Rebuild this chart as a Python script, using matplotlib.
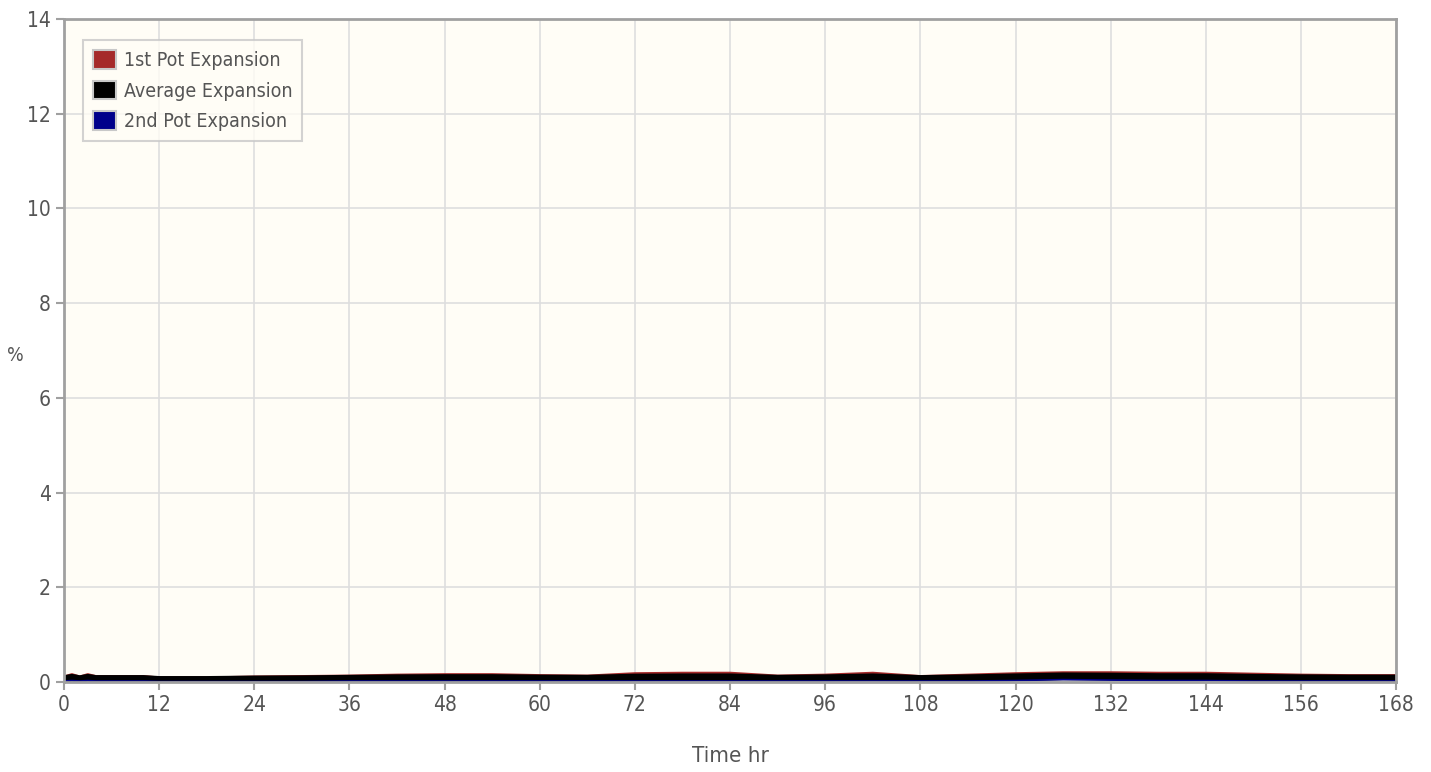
import matplotlib
matplotlib.use("Agg")
import matplotlib.pyplot as plt
from matplotlib.patches import Patch

plt.rcParams['font.family'] = ['DejaVu Sans']
plt.rcParams['font.stretch'] = 'condensed'

# time in hours and expansion in %
hours = [0, 1, 2, 3, 4, 6, 10, 12, 18, 24, 30, 36, 42, 48, 54, 60, 66, 72, 78, 84,
         90, 96, 102, 108, 114, 120, 126, 132, 138, 144, 150, 156, 162, 168]
pot1 = [0.10, 0.15, 0.10, 0.15, 0.11, 0.11, 0.11, 0.08, 0.08, 0.10, 0.11, 0.12, 0.14, 0.15, 0.15, 0.13, 0.12,
        0.17, 0.18, 0.18, 0.12, 0.14, 0.18, 0.11, 0.14, 0.17, 0.19, 0.19, 0.18, 0.18, 0.16, 0.14, 0.13, 0.13]
pot2 = [0.02, 0.03, 0.02, 0.03, 0.02, 0.02, 0.02, 0.01, 0.01, 0.01, 0.01, 0.02, 0.02, 0.02, 0.02, 0.02, 0.02,
        0.02, 0.02, 0.02, 0.02, 0.02, 0.02, 0.02, 0.02, 0.03, 0.05, 0.04, 0.03, 0.03, 0.02, 0.02, 0.02, 0.02]
avg = [(a + b) / 2 for a, b in zip(pot1, pot2)]

labels = ["1st Pot Expansion", "Average Expansion", "2nd Pot Expansion"]
colors = ["#a52a2a", "#000000", "#00008b"]

fig = plt.figure(figsize=(14.31, 7.72), dpi=100)
ax = fig.add_axes([0.0447, 0.1166, 0.931, 0.8588])
ax.set_facecolor("#fffdf6")

ax.plot(hours, pot1, color=colors[0], lw=2.5)
ax.plot(hours, avg, color=colors[1], lw=5.5)
ax.plot(hours, pot2, color=colors[2], lw=1.2)

ax.set_xlim(0, 168)
ax.set_ylim(0, 14)
ax.set_xticks(range(0, 169, 12))
ax.set_yticks(range(0, 15, 2))
ax.grid(True, color="#dedede", lw=1.2)
ax.set_axisbelow(True)

for s in ax.spines.values():
    s.set_color("#a0a0a0")
    s.set_linewidth(2)
ax.tick_params(colors="#a0a0a0", labelcolor="#555555", labelsize=15, length=6, width=1.5)

ax.set_xlabel("Time hr", fontsize=16, color="#555555", labelpad=22)
fig.text(0.0105, 0.54, "%", fontsize=14, color="#555555", ha="center", va="center")

handles = [Patch(facecolor=c, edgecolor="#c8c8c8", lw=1.5) for c in colors]
leg = ax.legend(handles, labels, loc="upper left", bbox_to_anchor=(0.0143, 0.968), borderaxespad=0,
                fontsize=14, frameon=True, fancybox=False, handlelength=1.2, handleheight=1.1,
                handletextpad=0.4, labelspacing=0.55, borderpad=0.5, labelcolor="#555555")
leg.get_frame().set_edgecolor("#c8c8c8")
leg.get_frame().set_facecolor("#fffdf6")
leg.get_frame().set_linewidth(1.5)

fig.savefig("out.png", dpi=100)
